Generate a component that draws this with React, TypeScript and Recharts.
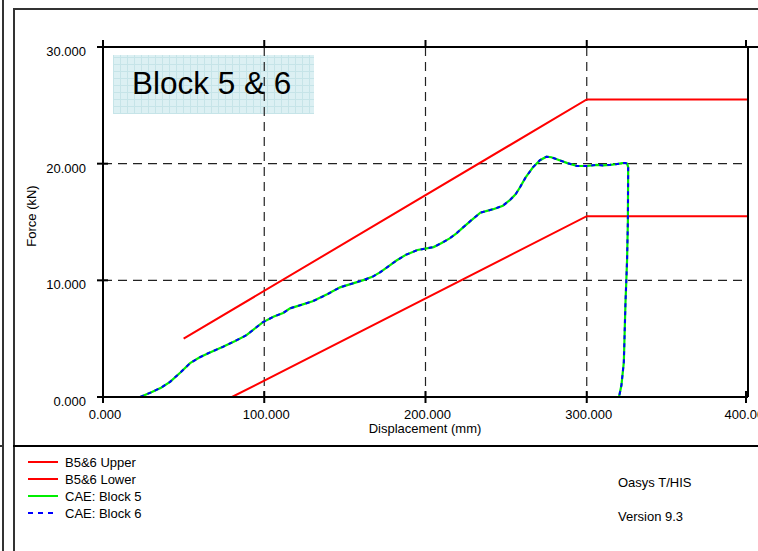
import React from 'react';
import { LineChart, Line, XAxis, YAxis, CartesianGrid } from 'recharts';

const xTicks = [0, 100, 200, 300, 400];
const yTicks = [0, 10, 20, 30];

const upperDisp = [50, 300, 400];
const upperForce = [5.0, 25.5, 25.5];
const lowerDisp = [80, 300, 400];
const lowerForce = [0, 15.5, 15.5];

const caeDisp = [
  23, 30, 36, 41.6, 48, 54, 60, 66, 74.4, 82, 89, 99, 106, 111.7, 116, 123, 130, 139, 147, 154,
  161, 167, 172, 177, 182, 188, 195, 205, 210, 215, 219, 223, 228, 234, 242, 248, 252.5, 256,
  258.7, 262, 266.7, 271, 275, 278, 281, 288, 294, 300, 306, 310, 314.5, 318, 322, 324, 325,
  325.7, 325.5, 325, 324, 323, 321.5, 320, 300, 252.5,
];
const block5Force = [
  0, 0.4, 0.8, 1.3, 2.1, 2.9, 3.4, 3.8, 4.3, 4.8, 5.3, 6.4, 6.9, 7.2, 7.6, 7.9, 8.2, 8.8, 9.4,
  9.7, 10.0, 10.3, 10.7, 11.2, 11.7, 12.2, 12.6, 12.85, 13.2, 13.6, 14.0, 14.5, 15.1, 15.8, 16.1,
  16.4, 16.9, 17.4, 18.0, 18.8, 19.7, 20.3, 20.6, 20.55, 20.4, 20.05, 19.8, 19.8, 19.9, 19.85,
  19.9, 19.95, 20.05, 20.05, 20.0, 19.7, 15.0, 11.7, 8.0, 3.0, 1.0, 0, 0, 0,
];
const block6Force = [
  0, 0.4, 0.8, 1.3, 2.1, 2.9, 3.4, 3.8, 4.3, 4.8, 5.3, 6.4, 6.9, 7.2, 7.6, 7.9, 8.2, 8.8, 9.4,
  9.7, 10.0, 10.3, 10.7, 11.2, 11.7, 12.2, 12.6, 12.85, 13.2, 13.6, 14.0, 14.5, 15.1, 15.8, 16.1,
  16.4, 16.9, 17.4, 18.0, 18.8, 19.7, 20.3, 20.6, 20.55, 20.4, 20.05, 19.8, 19.8, 19.9, 19.85,
  19.9, 19.95, 20.05, 20.05, 20.0, 19.7, 15.0, 11.7, 8.0, 3.0, 1.0, 0, 0, 0,
];

const legendItems = [
  { name: 'B5&6 Upper', color: '#ff0000', dash: '' },
  { name: 'B5&6 Lower', color: '#ff0000', dash: '' },
  { name: 'CAE: Block 5', color: '#00ee00', dash: '' },
  { name: 'CAE: Block 6', color: '#0000ff', dash: '5 5' },
];

const toPoints = (xs: number[], ys: number[]) => xs.map((x, i) => ({ x, y: ys[i] }));

const FONT = '"Liberation Sans", Arial, sans-serif';

const BottomTick = ({ x, y, payload }: any) => (
  <g>
    <line x1={x} x2={x} y1={y - 6} y2={y + 6} stroke="#000" strokeWidth={2} />
    <text x={x + 2} y={y + 22} textAnchor="middle" fontSize={13} fontFamily={FONT} fill="#000">
      {Number(payload.value).toFixed(3)}
    </text>
  </g>
);

const LeftTick = ({ x, y, payload }: any) => (
  <g>
    <line x1={x - 6} x2={x + 5} y1={y} y2={y} stroke="#000" strokeWidth={2} />
    <text x={x - 17} y={y + 9} textAnchor="end" fontSize={13} fontFamily={FONT} fill="#000">
      {Number(payload.value).toFixed(3)}
    </text>
  </g>
);

const TopTick = ({ x, y }: any) => (
  <line x1={x} x2={x} y1={y - 7} y2={y} stroke="#000" strokeWidth={2} />
);

const XTitle = () => (
  <text x={425} y={433} textAnchor="middle" fontSize={13} fontFamily={FONT} fill="#000">
    Displacement (mm)
  </text>
);

const YTitle = () => (
  <text
    x={31}
    y={216}
    transform="rotate(-90 31 216)"
    textAnchor="middle"
    dominantBaseline="central"
    fontSize={13}
    fontFamily={FONT}
    fill="#000"
  >
    Force (kN)
  </text>
);

const abs = (s: React.CSSProperties): React.CSSProperties => ({ position: 'absolute', ...s });

export default function App() {
  return (
    <div style={abs({ left: 0, top: 0, width: 758, height: 551, background: '#fff', overflow: 'hidden', fontFamily: FONT })}>
      {/* window frame */}
      <div style={abs({ left: 2, top: 0, width: 2, height: 551, background: '#333' })} />
      <div style={abs({ left: 0, top: 445, width: 3, height: 2, background: '#333' })} />
      <div style={abs({ left: 13, top: 8, width: 745, height: 543, borderLeft: '2px solid #333', borderTop: '2px solid #333' })} />
      <div style={abs({ left: 13, top: 445, width: 745, height: 2, background: '#000' })} />
      <div style={abs({ left: 748, top: 46, width: 10, height: 2, background: '#000' })} />

      {/* title box */}
      <div
        style={abs({
          left: 113,
          top: 55,
          width: 201,
          height: 59,
          backgroundColor: '#dcf0f3',
          backgroundImage:
            'repeating-linear-gradient(0deg, #c6e4e8 0 1px, transparent 1px 7px), repeating-linear-gradient(90deg, #c6e4e8 0 1px, transparent 1px 7px)',
        })}
      >
        <div style={abs({ left: 19, top: 11, fontSize: 31.5, lineHeight: '34px', color: '#000', whiteSpace: 'nowrap' })}>
          Block 5 &amp; 6
        </div>
      </div>

      <div style={abs({ left: 0, top: 0 })}>
        <LineChart width={758} height={551} margin={{ top: 46, right: 9, bottom: 114, left: 43 }}>
          <CartesianGrid stroke="#222" strokeWidth={1.2} strokeDasharray="9 6" />
          <XAxis
            dataKey="x"
            type="number"
            domain={[0, 400]}
            ticks={xTicks}
            height={40}
            tickSize={0}
            tickMargin={0}
            tickLine={false}
            tick={<BottomTick />}
            axisLine={{ stroke: '#000', strokeWidth: 2 }}
            allowDataOverflow
            label={<XTitle />}
          />
          <XAxis
            xAxisId="top"
            orientation="top"
            dataKey="x"
            type="number"
            domain={[0, 400]}
            ticks={xTicks}
            height={1}
            tickSize={0}
            tickMargin={0}
            tickLine={false}
            tick={<TopTick />}
            axisLine={{ stroke: '#000', strokeWidth: 2 }}
            allowDataOverflow
          />
          <YAxis
            type="number"
            domain={[0, 30]}
            ticks={yTicks}
            width={60}
            tickSize={0}
            tickMargin={0}
            tickLine={false}
            tick={<LeftTick />}
            axisLine={{ stroke: '#000', strokeWidth: 2 }}
            allowDataOverflow
            label={<YTitle />}
          />
          <YAxis
            yAxisId="right"
            orientation="right"
            type="number"
            domain={[0, 30]}
            ticks={yTicks}
            width={1}
            tickSize={0}
            tick={false}
            tickLine={false}
            axisLine={{ stroke: '#000', strokeWidth: 2 }}
            allowDataOverflow
          />
          <Line
            data={toPoints(upperDisp, upperForce)}
            xAxisId="top"
            yAxisId="right"
            dataKey="y"
            name="B5&6 Upper"
            type="linear"
            stroke="#ff0000"
            strokeWidth={2}
            dot={false}
            isAnimationActive={false}
          />
          <Line
            data={toPoints(lowerDisp, lowerForce)}
            dataKey="y"
            name="B5&6 Lower"
            type="linear"
            stroke="#ff0000"
            strokeWidth={2}
            dot={false}
            isAnimationActive={false}
          />
          <Line
            data={toPoints(caeDisp, block5Force)}
            dataKey="y"
            name="CAE: Block 5"
            type="linear"
            stroke="#00ee00"
            strokeWidth={2.2}
            dot={false}
            isAnimationActive={false}
          />
          <Line
            data={toPoints(caeDisp, block6Force)}
            dataKey="y"
            name="CAE: Block 6"
            type="linear"
            stroke="#0000ff"
            strokeWidth={2}
            strokeDasharray="4 4"
            dot={false}
            isAnimationActive={false}
          />
        </LineChart>
      </div>

      {/* legend */}
      <svg style={abs({ left: 0, top: 450 })} width={300} height={80}>
        {legendItems.map((item, i) => {
          const cy = 12 + i * 17;
          return (
            <g key={item.name}>
              <line
                x1={28}
                x2={58}
                y1={cy}
                y2={cy}
                stroke={item.color}
                strokeWidth={2}
                strokeDasharray={item.dash || undefined}
              />
              <text x={65} y={cy + 4.5} fontSize={13} fontFamily={FONT} fill="#000">
                {item.name}
              </text>
            </g>
          );
        })}
      </svg>
      <div style={abs({ left: 618, top: 475, fontSize: 13, color: '#000' })}>Oasys T/HIS</div>
      <div style={abs({ left: 618, top: 509, fontSize: 13, color: '#000' })}>Version 9.3</div>
    </div>
  );
}
